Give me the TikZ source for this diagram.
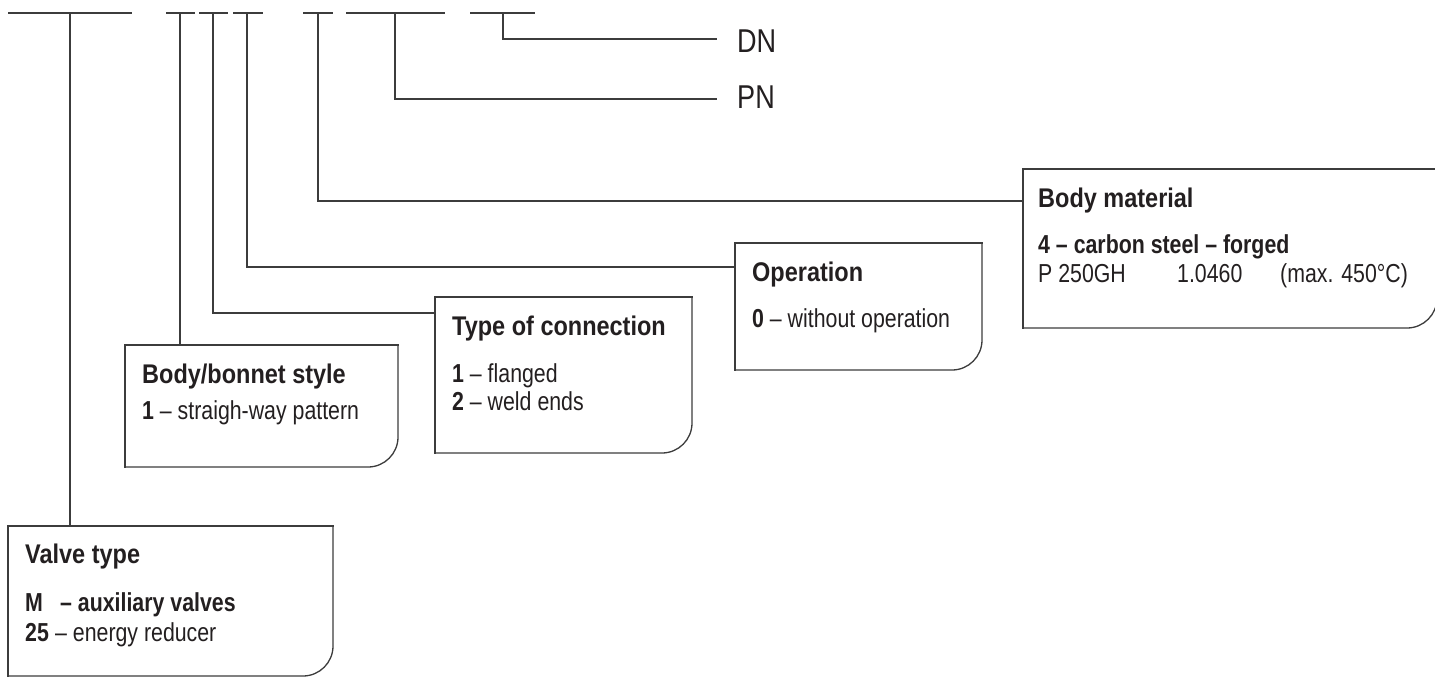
\documentclass[tikz,border=0pt]{standalone}
\usepackage{fontspec}
\setmainfont{Liberation Sans}[FakeStretch=0.82]
\newfontfamily\titlefont{Liberation Sans}[FakeStretch=0.87]
\definecolor{ink}{HTML}{231F20}
\definecolor{rulec}{HTML}{3C3C3C}
\newcommand\drawframe[1]{%
  \draw[line] (#1.south west) -- (#1.north west) -- (#1.north east);
  \draw[line, rounded corners=30pt] (#1.north east) -- (#1.south east) -- (#1.south west);}
\begin{document}
\begin{tikzpicture}[x=1pt,y=-1pt,
  line/.style={draw=rulec, line width=1.3pt, line cap=rect},
  boxframe/.style={inner sep=0pt, outer sep=0pt, anchor=north west},
  ttl/.style={anchor=base west, inner sep=0pt, text=ink, font=\titlefont\bfseries\fontsize{27}{27}\selectfont},
  txt/.style={anchor=base west, inner sep=0pt, text=ink, font=\fontsize{26}{26}\selectfont},
  big/.style={anchor=base west, inner sep=0pt, text=ink, font=\fontsize{33}{33}\selectfont},
]
\useasboundingbox (0,0) rectangle (1435,677);

% top code line segments
\coordinate (s1a) at (8,13);   \coordinate (s1b) at (132,13); \coordinate (t1) at (70,13);
\coordinate (s2a) at (166,13); \coordinate (s2b) at (195,13); \coordinate (t2) at (180,13);
\coordinate (s3a) at (199,13); \coordinate (s3b) at (228,13); \coordinate (t3) at (213,13);
\coordinate (s4a) at (233,13); \coordinate (s4b) at (263,13); \coordinate (t4) at (247,13);
\coordinate (s5a) at (303,13); \coordinate (s5b) at (333,13); \coordinate (t5) at (318,13);
\coordinate (s6a) at (346,13); \coordinate (s6b) at (445,13); \coordinate (t6) at (395,13);
\coordinate (s7a) at (470,13); \coordinate (s7b) at (535,13); \coordinate (t7) at (503,13);
\foreach \i in {1,...,7} {\draw[line, line cap=butt] (s\i a) -- (s\i b);}

% boxes
\node[boxframe, minimum width=325pt, minimum height=150pt] (vt) at (8,526) {};
\node[boxframe, minimum width=273pt, minimum height=122pt] (bb) at (125,345) {};
\node[boxframe, minimum width=257pt, minimum height=156pt] (tc) at (435,297) {};
\node[boxframe, minimum width=247pt, minimum height=127pt] (op) at (735,243) {};
\node[boxframe, minimum width=414pt, minimum height=159pt] (bm) at (1023,169) {};
\drawframe{vt}
\drawframe{bb}
\drawframe{tc}
\drawframe{op}
\drawframe{bm}

% texts
\node[ttl] (vtt) at (25,563) {Valve type};
\node[txt] (vt1) at (25,611) {\bfseries\makebox[35pt][l]{M}– auxiliary valves};
\node[txt] (vt2) at (25,641) {\bfseries\makebox[30pt][l]{25}\mdseries– energy reducer};

\node[ttl] (bbt) at (142,383) {Body/bonnet style};
\node[txt] (bb1) at (142,419) {\textbf{1} – straigh-way pattern};

\node[ttl] (tct) at (452,335) {Type of connection};
\node[txt] (tc1) at (452,382) {\textbf{1} – flanged};
\node[txt] (tc2) at (452,410) {\textbf{2} – weld ends};

\node[ttl] (opt) at (752,281) {Operation};
\node[txt] (op1) at (752,327) {\textbf{0} – without operation};

\node[ttl] (bmt) at (1038,207) {Body material};
\node[txt] (bm1) at (1038,253) {\bfseries 4 – carbon steel – forged};
\node[txt] (bm2) at (1038,282) {\makebox[139pt][l]{P 250GH}\makebox[103pt][l]{1.0460}(max. 450°C)};

\node[big] (dn) at (737,53) {DN};
\node[big] (pn) at (737,108) {PN};
\coordinate (dnend) at (717,39);
\coordinate (pnend) at (717,99);

% connectors
\draw[line, line cap=butt] (t1) -- (t1 |- vt.north);
\draw[line, line cap=butt] (t2) -- (t2 |- bb.north);
\draw[line, line cap=butt] (t3) |- ([yshift=-16pt]tc.north west);
\draw[line, line cap=butt] (t4) |- ([yshift=-24pt]op.north west);
\draw[line, line cap=butt] (t5) |- ([yshift=-32pt]bm.north west);
\draw[line, line cap=butt] (t6) |- (pnend);
\draw[line, line cap=butt] (t7) |- (dnend);
\end{tikzpicture}
\end{document}
